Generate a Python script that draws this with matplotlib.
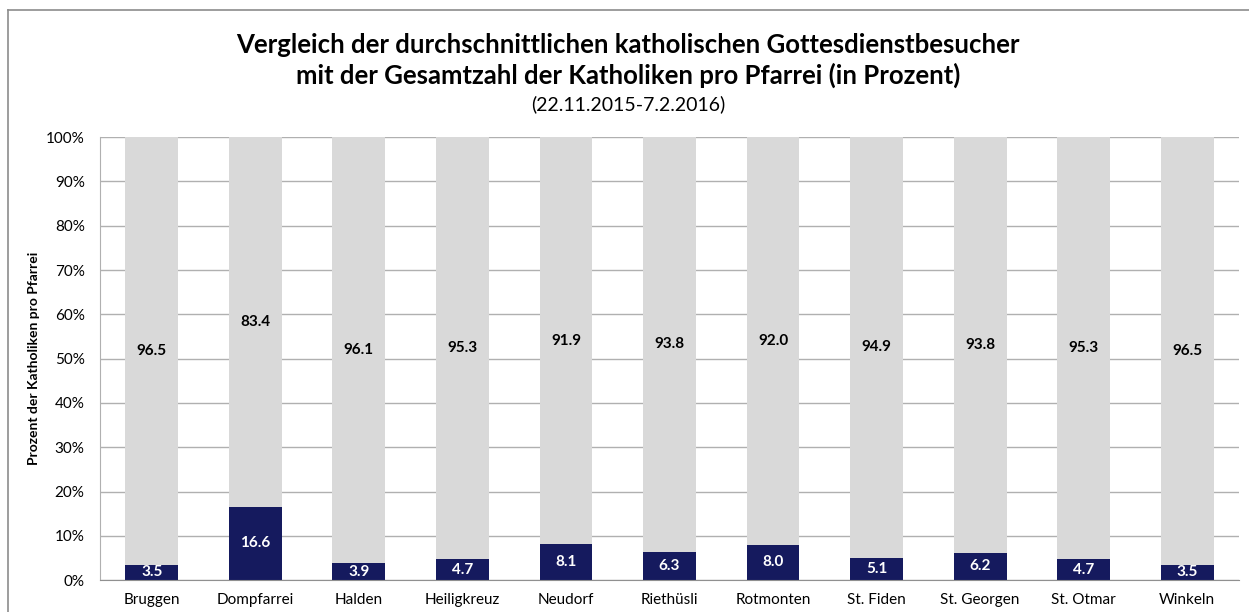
import numpy as np
import matplotlib.pyplot as plt
from matplotlib.ticker import PercentFormatter
from matplotlib.lines import Line2D

plt.rcParams['font.family'] = ['Lato', 'DejaVu Sans']

pfarreien = ['Bruggen', 'Dompfarrei', 'Halden', 'Heiligkreuz', 'Neudorf', 'Riethüsli',
             'Rotmonten', 'St. Fiden', 'St. Georgen', 'St. Otmar', 'Winkeln']
besucher = [3.5, 16.6, 3.9, 4.7, 8.1, 6.3, 8.0, 5.1, 6.2, 4.7, 3.5]
uebrige = [96.5, 83.4, 96.1, 95.3, 91.9, 93.8, 92.0, 94.9, 93.8, 95.3, 96.5]

navy = '#151a5e'
grau = '#d9d9d9'

fig = plt.figure(figsize=(12.49, 6.12), dpi=100)
ax = fig.add_axes([0.080, 0.052, 0.912, 0.724])

x = np.arange(len(pfarreien))
ax.bar(x, besucher, width=0.51, color=navy, zorder=2)
ax.bar(x, uebrige, width=0.51, bottom=besucher, color=grau, zorder=2)

for i in range(len(x)):
    ax.text(x[i], besucher[i] / 2, f'{besucher[i]:.1f}', ha='center', va='center',
            color='white', fontsize=11, fontweight='bold', zorder=3)
    ax.text(x[i], besucher[i] + uebrige[i] / 2, f'{uebrige[i]:.1f}', ha='center', va='center',
            color='black', fontsize=11, fontweight='bold', zorder=3)

ax.set_xlim(-0.5, len(x) - 0.5)
ax.set_ylim(0, 100)
ax.set_yticks(np.arange(0, 101, 10))
ax.yaxis.set_major_formatter(PercentFormatter(decimals=0))
ax.set_xticks(x)
ax.set_xticklabels(pfarreien)
ax.tick_params(axis='both', length=0, labelsize=11)
ax.tick_params(axis='x', pad=9)
ax.tick_params(axis='y', pad=11)
ax.grid(axis='y', color='#b0b0b0', linewidth=1, zorder=0)
for s in ['top', 'right']:
    ax.spines[s].set_visible(False)
ax.spines['left'].set_color('#b0b0b0')
ax.spines['bottom'].set_color('#909090')
ax.set_ylabel('Prozent der Katholiken pro Pfarrei', fontsize=10, fontweight='bold')
ax.yaxis.set_label_coords(-0.053, 0.5)

fig.text(0.503, 0.926, 'Vergleich der durchschnittlichen katholischen Gottesdienstbesucher',
         ha='center', va='center', fontsize=18.5, fontweight='bold')
fig.text(0.503, 0.877, 'mit der Gesamtzahl der Katholiken pro Pfarrei (in Prozent)',
         ha='center', va='center', fontsize=18.5, fontweight='bold')
fig.text(0.503, 0.829, '(22.11.2015-7.2.2016)', ha='center', va='center', fontsize=14)

# chart border (only top and left visible in the original crop)
fig.add_artist(Line2D([8 / 1249, 8 / 1249], [0, 1 - 10 / 612], color='#8c8c8c', lw=1.2))
fig.add_artist(Line2D([8 / 1249, 1], [1 - 10 / 612, 1 - 10 / 612], color='#8c8c8c', lw=1.2))

fig.savefig('out.png', dpi=100)
